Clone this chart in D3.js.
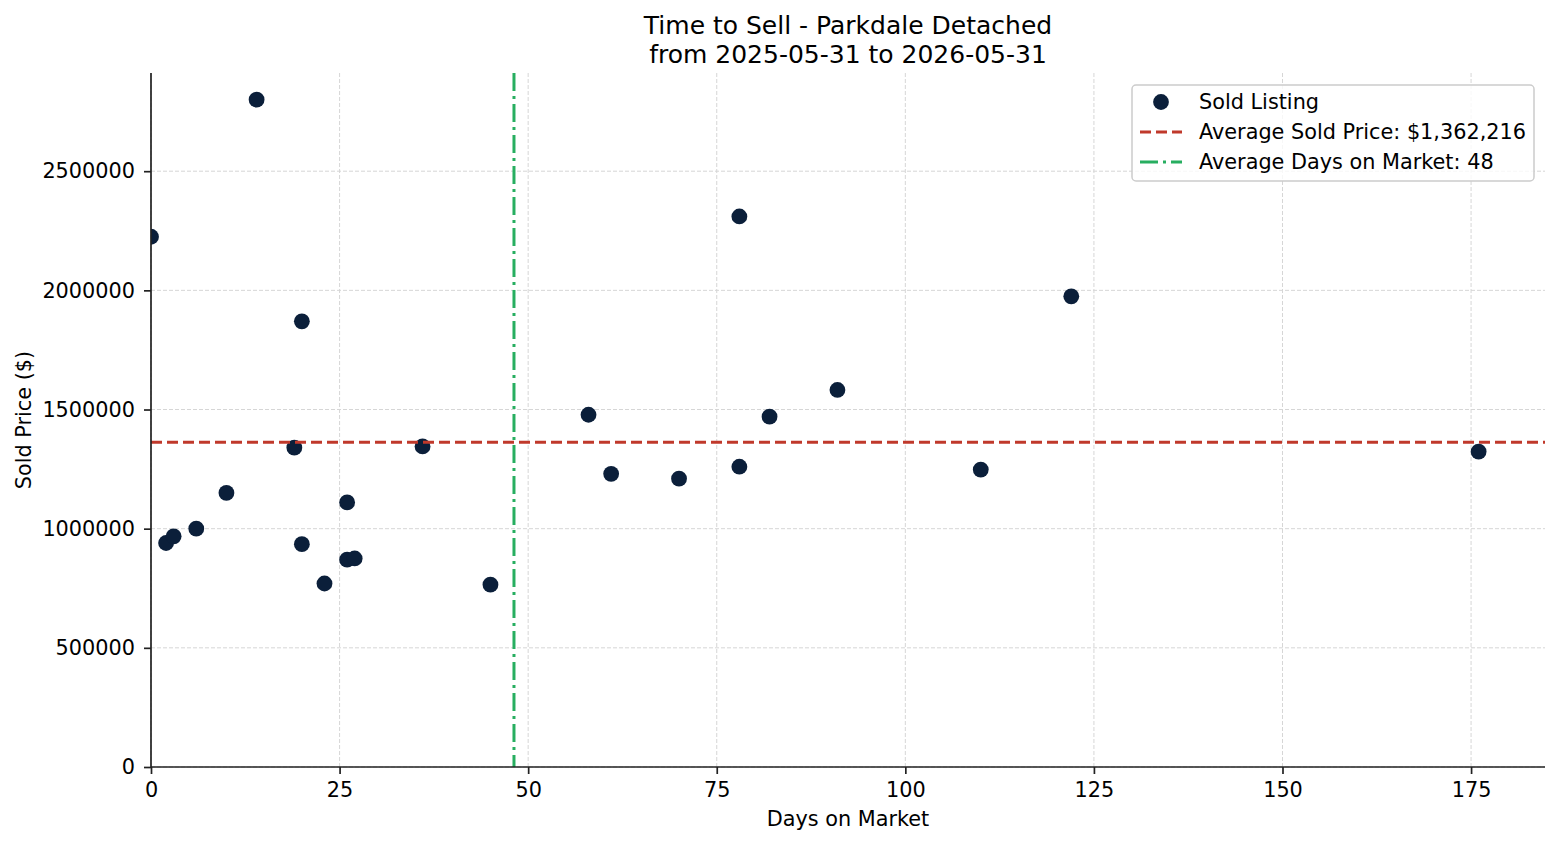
<!DOCTYPE html>
<html>
<head>
<meta charset="utf-8">
<script src="https://cdn.jsdelivr.net/npm/d3@7"></script>
<style>
  body { margin: 0; background: #fff; }
  text { font-family: "DejaVu Sans", sans-serif; fill: #000; }
</style>
</head>
<body>
<div class="chart"></div>
<script>
// sold listings: days on market and sold price
var days = [0, 2, 3, 6, 10, 14, 19, 20, 20, 23, 26, 26, 27, 36, 45, 58, 61, 70, 78, 78, 82, 91, 110, 122, 176];
var prices = [2225000, 940000, 968000, 1000000, 1150000, 2800000, 1340000, 1870000, 935000, 770000,
    1110000, 870000, 875000, 1345000, 765000, 1478000, 1230000, 1210000, 2310000, 1260000,
    1470000, 1582000, 1248000, 1975000, 1323000];

var avgPrice = 1362216;
var avgDays = 48.12;

var xTicks = [0, 25, 50, 75, 100, 125, 150, 175];
var yTicks = [0, 500000, 1000000, 1500000, 2000000, 2500000];

var titleLines = ["Time to Sell - Parkdale Detached", "from 2025-05-31 to 2026-05-31"];
var legendLabels = ["Sold Listing", "Average Sold Price: $1,362,216", "Average Days on Market: 48"];

var svgWidth = 1560;
var svgHeight = 845;

var margin = { top: 73, right: 15, bottom: 78, left: 151 };
var width = svgWidth - margin.left - margin.right;
var height = svgHeight - margin.top - margin.bottom;

var fontSize = "20.8px";

var svg = d3.select(".chart")
    .append("svg")
    .attr("width", svgWidth)
    .attr("height", svgHeight);

svg.append("defs").append("clipPath")
    .attr("id", "plotClip")
    .append("rect")
    .attr("width", width)
    .attr("height", height);

var chartGroup = svg.append("g")
    .attr("transform", `translate(${margin.left}, ${margin.top})`);

var xScale = d3.scaleLinear()
    .domain([0, d3.max(days) * 1.05])
    .range([0, width]);

var yScale = d3.scaleLinear()
    .domain([0, d3.max(prices) * 1.04])
    .range([height, 0]);

// grid
chartGroup.append("g")
    .selectAll("line")
    .data(xTicks)
    .enter()
    .append("line")
    .attr("x1", d => xScale(d))
    .attr("x2", d => xScale(d))
    .attr("y1", 0)
    .attr("y2", height)
    .attr("stroke", "#d6d6d6")
    .attr("stroke-width", 1)
    .attr("stroke-dasharray", "4,2");

chartGroup.append("g")
    .selectAll("line")
    .data(yTicks)
    .enter()
    .append("line")
    .attr("x1", 0)
    .attr("x2", width)
    .attr("y1", d => yScale(d))
    .attr("y2", d => yScale(d))
    .attr("stroke", "#d6d6d6")
    .attr("stroke-width", 1)
    .attr("stroke-dasharray", "4,2");

var plotArea = chartGroup.append("g")
    .attr("clip-path", "url(#plotClip)");

plotArea.selectAll("circle")
    .data(days)
    .enter()
    .append("circle")
    .attr("cx", (d, i) => xScale(d))
    .attr("cy", (d, i) => yScale(prices[i]))
    .attr("r", 7.9)
    .attr("fill", "#0b1f3a");

// average lines
plotArea.append("line")
    .attr("x1", 0)
    .attr("x2", width)
    .attr("y1", yScale(avgPrice))
    .attr("y2", yScale(avgPrice))
    .attr("stroke", "#c0392b")
    .attr("stroke-width", 3)
    .attr("stroke-dasharray", "11,5");

plotArea.append("line")
    .attr("x1", xScale(avgDays))
    .attr("x2", xScale(avgDays))
    .attr("y1", 0)
    .attr("y2", height)
    .attr("stroke", "#27ae60")
    .attr("stroke-width", 3)
    .attr("stroke-dasharray", "18,5,3,5");

// axes
var bottomAxis = d3.axisBottom(xScale).tickValues(xTicks).tickSize(7).tickPadding(8);
var leftAxis = d3.axisLeft(yScale).tickValues(yTicks).tickFormat(d3.format("d")).tickSize(7).tickPadding(9);

var xAxis = chartGroup.append("g")
    .attr("transform", `translate(0, ${height})`)
    .call(bottomAxis);

var yAxis = chartGroup.append("g")
    .call(leftAxis);

[xAxis, yAxis].forEach(function(ax) {
    ax.select(".domain").attr("stroke", "#222").attr("stroke-width", 1.7);
    ax.selectAll(".tick line").attr("stroke", "#222").attr("stroke-width", 1.7);
    ax.selectAll(".tick text")
        .style("font-family", "DejaVu Sans, sans-serif")
        .style("font-size", fontSize)
        .attr("fill", "#000");
});
xAxis.select(".domain").attr("d", `M0,0H${width}`);
yAxis.select(".domain").attr("d", `M0,${height}V0`);

// axis labels
chartGroup.append("text")
    .attr("x", width / 2)
    .attr("y", height + 59)
    .attr("text-anchor", "middle")
    .attr("font-size", fontSize)
    .text("Days on Market");

chartGroup.append("text")
    .attr("transform", "rotate(-90)")
    .attr("x", -height / 2)
    .attr("y", -120)
    .attr("text-anchor", "middle")
    .attr("font-size", fontSize)
    .text("Sold Price ($)");

// title
svg.append("g")
    .selectAll("text")
    .data(titleLines)
    .enter()
    .append("text")
    .attr("x", margin.left + width / 2)
    .attr("y", (d, i) => 34 + i * 29)
    .attr("text-anchor", "middle")
    .attr("font-size", "25px")
    .text(d => d);

// legend
var legend = svg.append("g")
    .attr("transform", "translate(1132, 85)");

legend.append("rect")
    .attr("width", 402)
    .attr("height", 96)
    .attr("rx", 4)
    .attr("fill", "#fff")
    .attr("fill-opacity", 0.8)
    .attr("stroke", "#cccccc")
    .attr("stroke-width", 1.5);

legend.append("circle")
    .attr("cx", 29)
    .attr("cy", 17)
    .attr("r", 7.9)
    .attr("fill", "#0b1f3a");

legend.append("line")
    .attr("x1", 8).attr("x2", 50)
    .attr("y1", 47).attr("y2", 47)
    .attr("stroke", "#c0392b")
    .attr("stroke-width", 3)
    .attr("stroke-dasharray", "11,5");

legend.append("line")
    .attr("x1", 8).attr("x2", 50)
    .attr("y1", 77).attr("y2", 77)
    .attr("stroke", "#27ae60")
    .attr("stroke-width", 3)
    .attr("stroke-dasharray", "18,5,3,5");

legend.selectAll("text.leg")
    .data(legendLabels)
    .enter()
    .append("text")
    .attr("class", "leg")
    .attr("x", 67)
    .attr("y", (d, i) => 17 + i * 30)
    .attr("dy", "0.35em")
    .attr("font-size", fontSize)
    .text(d => d);
</script>
</body>
</html>
